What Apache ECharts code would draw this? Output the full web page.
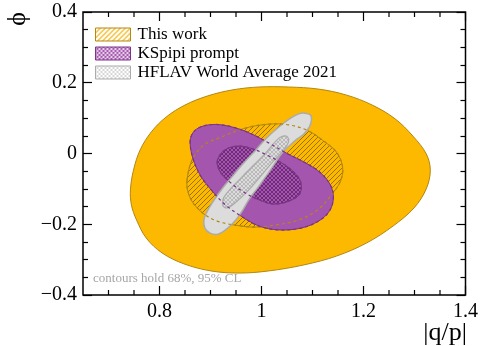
<!DOCTYPE html>
<html>
<head>
<meta charset="utf-8">
<script src="https://cdn.jsdelivr.net/npm/echarts@6/dist/echarts.min.js"></script>
<style>
  html, body { margin: 0; padding: 0; background: #fff; }
  #chart { width: 481px; height: 346px; }
</style>
</head>
<body>
<div id="chart"></div>
<script>
// Axis ranges and tick positions
const xRange = [0.65, 1.4];
const yRange = [-0.4, 0.4];
const xTicksMajor = [0.8, 1.0, 1.2, 1.4];
const xTicksMinor = [0.7, 0.75, 0.85, 0.9, 0.95, 1.05, 1.1, 1.15, 1.25, 1.3, 1.35];
const yTickStep = 0.2;

const legendNames = ['This work', 'KSpipi prompt', 'HFLAV World Average 2021'];

// Confidence contours, [|q/p|, phi] pairs
const thisWork95 = [
  [0.743, -0.103], [0.749, -0.047], [0.762, 0.010], [0.784, 0.061], [0.813, 0.103],
  [0.850, 0.137], [0.895, 0.163], [0.944, 0.180], [0.995, 0.188], [1.053, 0.188],
  [1.112, 0.182], [1.167, 0.165], [1.217, 0.137], [1.262, 0.098], [1.297, 0.049],
  [1.323, -0.001], [1.331, -0.047], [1.323, -0.100], [1.299, -0.154], [1.258, -0.205],
  [1.206, -0.253], [1.147, -0.290], [1.083, -0.315], [1.014, -0.332], [0.956, -0.338],
  [0.901, -0.332], [0.848, -0.312], [0.805, -0.281], [0.774, -0.239], [0.755, -0.188],
  [0.745, -0.146]
];
const thisWork68 = [
  [0.854, -0.075], [0.864, -0.018], [0.887, 0.024], [0.922, 0.047], [0.969, 0.072],
  [1.014, 0.083], [1.053, 0.081], [1.092, 0.064], [1.122, 0.035], [1.147, 0.004],
  [1.159, -0.038], [1.155, -0.078], [1.137, -0.117], [1.112, -0.157], [1.073, -0.188],
  [1.028, -0.202], [0.985, -0.208], [0.946, -0.202], [0.913, -0.191], [0.887, -0.171],
  [0.866, -0.140], [0.856, -0.109]
];
const kspipi95 = [
  [0.860, 0.030], [0.864, 0.055], [0.876, 0.072], [0.897, 0.081], [0.921, 0.081],
  [0.950, 0.072], [0.981, 0.055], [1.014, 0.030], [1.049, 0.001], [1.087, -0.027],
  [1.116, -0.055], [1.135, -0.089], [1.141, -0.126], [1.133, -0.163], [1.112, -0.191],
  [1.077, -0.211], [1.034, -0.216], [0.995, -0.205], [0.960, -0.177], [0.930, -0.146],
  [0.905, -0.109], [0.881, -0.064], [0.866, -0.016]
];
const kspipi68 = [
  [0.913, -0.024], [0.921, 0.001], [0.936, 0.016], [0.958, 0.021], [0.983, 0.013],
  [1.010, -0.004], [1.040, -0.027], [1.063, -0.052], [1.077, -0.081], [1.075, -0.114],
  [1.055, -0.134], [1.024, -0.143], [0.995, -0.131], [0.965, -0.109], [0.938, -0.081],
  [0.919, -0.052]
];
const hflav95 = [
  [1.085, 0.114], [1.096, 0.109], [1.098, 0.095], [1.094, 0.075], [1.083, 0.055],
  [1.067, 0.038], [1.040, 0.001], [1.024, -0.033], [1.008, -0.066], [0.991, -0.100],
  [0.975, -0.131], [0.962, -0.163], [0.948, -0.191], [0.932, -0.213], [0.915, -0.228],
  [0.899, -0.225], [0.889, -0.211], [0.887, -0.188], [0.893, -0.165], [0.903, -0.140],
  [0.921, -0.103], [0.942, -0.066], [0.965, -0.027], [0.989, 0.010], [1.010, 0.044],
  [1.034, 0.075], [1.057, 0.100], [1.073, 0.112]
];
const hflav68 = [
  [1.042, 0.049], [1.051, 0.047], [1.053, 0.033], [1.044, 0.010], [1.020, -0.027],
  [0.975, -0.103], [0.948, -0.140], [0.932, -0.154], [0.924, -0.146], [0.928, -0.120],
  [0.962, -0.066], [1.008, 0.001], [1.030, 0.038]
];

const FONT = '"Liberation Serif", "Times New Roman", serif';

// Tiled hatch fills drawn on a small canvas
function hatch(size, color, bg, cross, lw) {
  const c = document.createElement('canvas');
  c.width = c.height = size;
  const g = c.getContext('2d');
  if (bg) { g.fillStyle = bg; g.fillRect(0, 0, size, size); }
  g.strokeStyle = color;
  g.lineWidth = lw;
  g.beginPath();
  g.moveTo(-1, size + 1); g.lineTo(size + 1, -1);
  g.moveTo(-1, 1); g.lineTo(1, -1);
  g.moveTo(size - 1, size + 1); g.lineTo(size + 1, size - 1);
  if (cross) {
    g.moveTo(-1, -1); g.lineTo(size + 1, size + 1);
    g.moveTo(size - 1, -1); g.lineTo(size + 1, 1);
    g.moveTo(-1, size - 1); g.lineTo(1, size + 1);
  }
  g.stroke();
  return { image: c, repetition: 'repeat' };
}

const C = {
  orange: '#fcb900', orangeEdge: '#b38712', orangeHatch: '#98730c',
  purple: '#a456ae', purpleEdge: '#7a3584', purpleHatch: '#6f2b7a',
  grey: '#dcdcdc', greyEdge: '#ababab', greyHatch: '#b9b9b9'
};

function contourSeries(name, points, style, z) {
  return {
    type: 'custom',
    name: name,
    coordinateSystem: 'cartesian2d',
    silent: true,
    z: z,
    data: points,
    renderItem: function (params, api) {
      if (params.dataIndex !== 0) return;
      return {
        type: 'polygon',
        shape: { points: points.map(function (p) { return api.coord(p); }), smooth: 0.35 },
        style: style
      };
    }
  };
}

const series = [
  contourSeries(legendNames[0], thisWork95, { fill: C.orange, stroke: C.orangeEdge, lineWidth: 1 }, 2),
  contourSeries(legendNames[0], thisWork68, { fill: hatch(5, C.orangeHatch, null, false, 1), stroke: C.orangeEdge, lineWidth: 1 }, 3),
  contourSeries(legendNames[1], kspipi95, { fill: C.purple, stroke: C.purpleEdge, lineWidth: 1 }, 4),
  contourSeries(legendNames[1], kspipi68, { fill: hatch(4, C.purpleHatch, null, true, 1), stroke: C.purpleEdge, lineWidth: 1 }, 5),
  contourSeries(legendNames[2], hflav95, { fill: C.grey, stroke: C.greyEdge, lineWidth: 1.5 }, 6),
  contourSeries(legendNames[2], hflav68, { fill: hatch(4, C.greyHatch, null, true, 1), stroke: C.greyEdge, lineWidth: 1.2 }, 7),
  // dashed outlines kept visible where other contours cover them
  contourSeries(legendNames[0], thisWork68, { fill: 'none', stroke: C.orangeEdge, lineWidth: 1.2, lineDash: [3, 3] }, 8),
  contourSeries(legendNames[1], kspipi95, { fill: 'none', stroke: C.purpleEdge, lineWidth: 1.2, lineDash: [3, 3] }, 8),
  contourSeries(legendNames[1], kspipi68, { fill: 'none', stroke: C.purpleEdge, lineWidth: 1.2, lineDash: [3, 3] }, 8)
];

function fmt(v) {
  return String(Math.round(v * 100) / 100).replace('-', '\u2212');
}

function yAxisDef(position, labels) {
  return {
    type: 'value', position: position, min: yRange[0], max: yRange[1], interval: yTickStep,
    axisLine: { show: false, onZero: false },
    splitLine: { show: false },
    axisTick: { show: true, inside: true, length: 9, lineStyle: { color: '#000', width: 1.2 } },
    minorTick: { show: true, splitNumber: 4, length: 5, lineStyle: { color: '#000', width: 1.2 } },
    axisLabel: labels ? {
      show: true, formatter: fmt, margin: 6,
      color: '#000', fontFamily: FONT, fontSize: 20
    } : { show: false }
  };
}

const textGraphics = [
  { type: 'text', left: 93, top: 272, silent: true,
    style: { text: 'contours hold 68%, 95% CL', fill: '#a6a6a6', font: '13px ' + FONT } },
  { type: 'text', x: 467, y: 346, silent: true,
    style: { text: '|q/p|', fill: '#000', font: '26px ' + FONT, align: 'right', verticalAlign: 'bottom' } },
  { type: 'text', x: 18, y: 19, rotation: Math.PI / 2, silent: true,
    style: { text: '\u03D5', fill: '#000', font: '26px ' + FONT, align: 'center', verticalAlign: 'middle' } }
];

const chart = echarts.init(document.getElementById('chart'));
chart.setOption({
  animation: false,
  backgroundColor: '#fff',
  grid: { left: 83, right: 15, top: 12, bottom: 51, show: true, borderColor: '#000', borderWidth: 1.5, backgroundColor: 'transparent', z: 10 },
  xAxis: {
    type: 'value', position: 'bottom', min: xRange[0], max: xRange[1],
    axisLine: { show: false, onZero: false },
    splitLine: { show: false },
    axisTick: { show: false },
    axisLabel: {
      show: true, customValues: xTicksMajor, formatter: fmt, margin: 7,
      color: '#000', fontFamily: FONT, fontSize: 20
    }
  },
  yAxis: [yAxisDef('left', true), yAxisDef('right', false)],
  legend: {
    orient: 'vertical', left: 95, top: 26, padding: 0,
    itemWidth: 35, itemHeight: 13, itemGap: 2,
    selectedMode: false,
    textStyle: { fontFamily: FONT, fontSize: 17, color: '#000', padding: [0, 0, 0, 2] },
    data: [
      { name: legendNames[0], icon: 'rect', itemStyle: { color: hatch(5, '#f3b000', '#fff', false, 1.2), borderColor: C.orangeEdge, borderWidth: 1 } },
      { name: legendNames[1], icon: 'rect', itemStyle: { color: hatch(4, C.purple, '#fff', true, 1.2), borderColor: C.purpleEdge, borderWidth: 1 } },
      { name: legendNames[2], icon: 'rect', itemStyle: { color: hatch(4, '#d6d6d6', '#fff', true, 1), borderColor: C.greyEdge, borderWidth: 1 } }
    ]
  },
  graphic: textGraphics,
  series: series
});

// Frame ticks on the bottom and top edges, placed through the x scale
function frameTicks(values, len) {
  const out = [];
  values.forEach(function (v) {
    const b = chart.convertToPixel({ xAxisIndex: 0, yAxisIndex: 0 }, [v, yRange[0]]);
    const t = chart.convertToPixel({ xAxisIndex: 0, yAxisIndex: 0 }, [v, yRange[1]]);
    const st = { stroke: '#000', lineWidth: 1.2 };
    out.push({ type: 'line', silent: true, z: 20, shape: { x1: b[0], y1: b[1], x2: b[0], y2: b[1] - len }, style: st });
    out.push({ type: 'line', silent: true, z: 20, shape: { x1: t[0], y1: t[1], x2: t[0], y2: t[1] + len }, style: st });
  });
  return out;
}
chart.setOption({
  graphic: textGraphics.concat(frameTicks(xTicksMajor, 9), frameTicks(xTicksMinor, 5))
});
</script>
</body>
</html>
